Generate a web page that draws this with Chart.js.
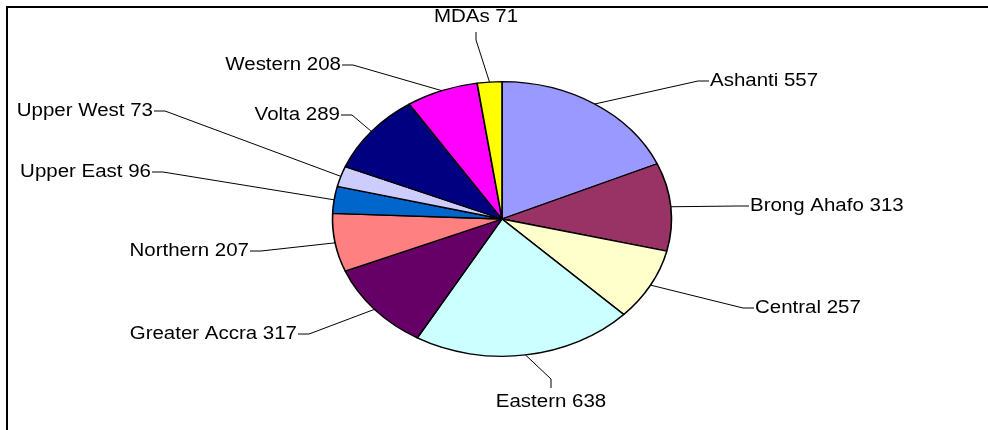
<!DOCTYPE html>
<html><head><meta charset="utf-8">
<script src="https://cdn.jsdelivr.net/npm/chart.js@4.4.0/dist/chart.umd.min.js"></script>
<style>html,body{margin:0;padding:0;background:#fff;overflow:hidden}canvas{display:block}</style>
</head><body>
<canvas id="c" width="988" height="430"></canvas>
<script>
const regions = ['Ashanti','Brong Ahafo','Central','Eastern','Greater Accra','Northern','Upper East','Upper West','Volta','Western','MDAs'];
const counts = [557,313,257,638,317,207,96,73,289,208,71];
const sliceColors = ['#9999FF','#993366','#FFFFCC','#CCFFFF','#660066','#FF8080','#0066CC','#CCCCFF','#000080','#FF00FF','#FFFF00'];
// label layout: leader-line elbow offset from the pie centre, and which side the text sits on
const labelElbows = [[196,-138],[236,-13],[241,89],[49,160],[-193,115],[-241,32],[-339,-47],[-337,-108],[-150,-104],[-149,-154],[-26,-179]];
const labelSides = ['right','right','right','down','left','left','left','left','left','left','up'];
const SX = 1.2345;   // horizontal stretch of the pie (ellipse)
const TSX = 1.17;    // horizontal stretch of the text
const FONT = '17.5px "Liberation Sans", Arial, sans-serif';

const framePlugin = {
  id: 'frame',
  beforeDraw(chart) {
    const ctx = chart.ctx;
    ctx.save();
    ctx.fillStyle = '#fff';
    ctx.fillRect(0, 0, chart.width, chart.height);
    ctx.strokeStyle = '#000';
    ctx.lineWidth = 2;
    ctx.strokeRect(7, 7, chart.width + 20, chart.height + 20);
    ctx.restore();
  }
};

const stretchPlugin = {
  id: 'stretch',
  beforeDatasetsDraw(chart) {
    const a = chart.getDatasetMeta(0).data[0];
    const ctx = chart.ctx;
    ctx.save();
    ctx.translate(a.x, a.y);
    ctx.scale(SX, 1);
    ctx.translate(-a.x, -a.y);
  },
  afterDatasetsDraw(chart) { chart.ctx.restore(); }
};

const labelPlugin = {
  id: 'labels',
  afterDraw(chart) {
    const ctx = chart.ctx;
    const arcs = chart.getDatasetMeta(0).data;
    ctx.save();
    ctx.strokeStyle = '#000';
    ctx.lineWidth = 1;
    ctx.fillStyle = '#000';
    ctx.font = FONT;
    ctx.textBaseline = 'middle';
    arcs.forEach((arc, i) => {
      const mid = (arc.startAngle + arc.endAngle) / 2;
      const r = arc.outerRadius;
      const ex = arc.x + Math.cos(mid) * r * SX;
      const ey = arc.y + Math.sin(mid) * r;
      const bx = arc.x + labelElbows[i][0];
      const by = arc.y + labelElbows[i][1];
      const side = labelSides[i];
      let tx = bx, ty = by, txtX = bx, txtY = by, align = 'center';
      if (side === 'right') { tx = bx + 11; txtX = tx + 1; align = 'left'; }
      else if (side === 'left') { tx = bx - 11; txtX = tx - 1; align = 'right'; }
      else if (side === 'up') { ty = by - 8; txtY = ty - 15; }
      else { ty = by + 9; txtY = ty + 14; }
      ctx.beginPath();
      ctx.moveTo(ex, ey);
      ctx.lineTo(bx, by);
      ctx.lineTo(tx, ty);
      ctx.stroke();
      ctx.save();
      ctx.translate(txtX, txtY);
      ctx.scale(TSX, 1);
      ctx.textAlign = align;
      ctx.fillText(regions[i] + ' ' + counts[i], 0, 0);
      ctx.restore();
    });
    ctx.restore();
  }
};

new Chart(document.getElementById('c'), {
  type: 'pie',
  data: {
    labels: regions,
    datasets: [{
      data: counts,
      backgroundColor: sliceColors,
      borderColor: '#000',
      borderWidth: 1.3,
      radius: 137.3
    }]
  },
  options: {
    responsive: false,
    animation: false,
    events: [],
    layout: { padding: { left: 216, right: 200, top: 58, bottom: 50 } },
    plugins: { legend: { display: false }, tooltip: { enabled: false } }
  },
  plugins: [framePlugin, stretchPlugin, labelPlugin]
});
</script>
</body></html>
